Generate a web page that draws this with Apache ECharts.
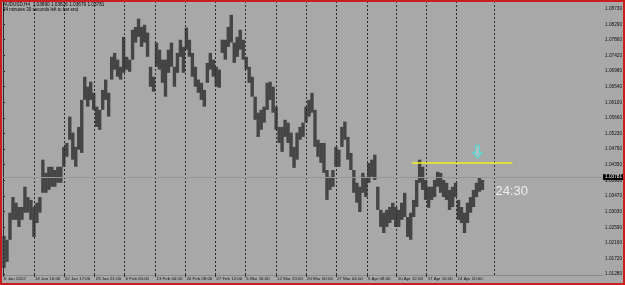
<!DOCTYPE html>
<html><head><meta charset="utf-8">
<script src="https://cdn.jsdelivr.net/npm/echarts@6/dist/echarts.min.js"></script>
<style>html,body{margin:0;padding:0;background:#a8a8a8}#c{width:625px;height:285px}</style>
</head><body><div id="c"></div>
<script>
// AUDUSD H4 – sampled every 3 H4 bars: high / low
const barHigh = [
1.0235,1.0224,1.0300,1.0344,1.0328,1.0316,1.0316,1.0373,1.0344,1.0336,
1.0316,1.0328,1.0344,1.0449,1.0412,1.0429,1.0429,1.0420,1.0429,1.0429,
1.0485,1.0496,1.0570,1.0525,1.0485,1.0541,1.0617,1.0682,1.0654,1.0668,
1.0637,1.0598,1.0589,1.0645,1.0674,1.0637,1.0738,1.0749,1.0730,1.0710,
1.0794,1.0738,1.0730,1.0814,1.0822,1.0845,1.0822,1.0828,1.0806,1.0710,
1.0682,1.0778,1.0758,1.0730,
1.0730,1.0758,1.0778,1.0710,1.0749,1.0786,1.0766,1.0820,1.0786,1.0749,
1.0710,1.0674,1.0665,1.0645,1.0721,1.0749,1.0730,1.0710,1.0702,1.0786,
1.0786,1.0822,1.0856,1.0778,1.0794,1.0814,1.0786,1.0738,1.0710,1.0682,
1.0626,1.0581,1.0589,1.0598,1.0665,1.0668,1.0654,1.0598,1.0541,1.0541,
1.0561,1.0553,1.0525,1.0485,1.0525,1.0541,1.0553,1.0598,1.0617,1.0637,
1.0589,1.0505,1.0496,
1.0496,1.0420,1.0401,1.0420,1.0485,1.0477,1.0541,1.0556,1.0513,1.0468,
1.0420,1.0384,1.0373,1.0412,1.0401,1.0440,1.0449,1.0463,1.0373,1.0308,
1.0300,1.0308,1.0316,1.0328,1.0316,1.0308,1.0328,1.0356,1.0288,1.0300,
1.0336,1.0392,1.0449,1.0429,1.0392,1.0373,1.0373,1.0392,1.0415,1.0412,
1.0392,1.0384,1.0364,1.0373,1.0384,1.0336,1.0316,1.0300,1.0328,1.0344,
1.0364,1.0384,1.0398,1.0392
];
const barLow = [
1.0145,1.0162,1.0224,1.0280,1.0280,1.0260,1.0280,1.0300,1.0300,1.0280,
1.0232,1.0271,1.0300,1.0356,1.0356,1.0364,1.0373,1.0373,1.0384,1.0384,
1.0429,1.0457,1.0505,1.0449,1.0429,1.0477,1.0468,1.0617,1.0598,1.0617,
1.0589,1.0541,1.0533,1.0589,1.0617,1.0570,1.0674,1.0702,1.0682,1.0674,
1.0693,1.0702,1.0696,1.0730,1.0778,1.0794,1.0766,1.0778,1.0738,1.0654,
1.0640,1.0710,1.0702,1.0665,
1.0626,1.0693,1.0710,1.0654,1.0693,1.0738,1.0693,1.0758,1.0738,1.0682,
1.0654,1.0637,1.0617,1.0598,1.0665,1.0702,1.0682,1.0654,1.0651,1.0749,
1.0730,1.0766,1.0778,1.0721,1.0738,1.0758,1.0730,1.0702,1.0665,1.0626,
1.0561,1.0513,1.0533,1.0553,1.0589,1.0617,1.0581,1.0533,1.0496,1.0471,
1.0513,1.0496,1.0457,1.0426,1.0449,1.0505,1.0513,1.0553,1.0570,1.0581,
1.0485,1.0457,1.0440,
1.0412,1.0336,1.0364,1.0373,1.0429,1.0429,1.0485,1.0505,1.0449,1.0420,
1.0356,1.0328,1.0302,1.0356,1.0344,1.0384,1.0401,1.0392,1.0308,1.0260,
1.0243,1.0260,1.0271,1.0280,1.0260,1.0260,1.0280,1.0288,1.0232,1.0224,
1.0288,1.0316,1.0384,1.0364,1.0336,1.0314,1.0336,1.0344,1.0373,1.0356,
1.0344,1.0336,1.0308,1.0316,1.0344,1.0280,1.0271,1.0243,1.0271,1.0300,
1.0316,1.0344,1.0359,1.0364
];
const BARS_PER_SAMPLE = 3;

const timeLabels = ["6 Jan 2012","13 Jan 16:00","22 Jan 17:00","29 Jan 21:00","6 Feb 00:00",
  "13 Feb 04:00","20 Feb 08:00","27 Feb 12:00","5 Mar 16:00","12 Mar 20:00","20 Mar 00:00",
  "27 Mar 04:00","3 Apr 08:00","10 Apr 12:00","17 Apr 16:00","24 Apr 20:00"];
const timeLabelBars = [0,31,61,92,122,153,183,213,243,274,304,334,365,395,425,455];
const separatorBars = [0,31,61,92,122,153,183,213,243,274,304,334,365,395,425,455,493];
const priceTicks = [1.08730,1.08290,1.07860,1.07420,1.06980,1.06540,1.06100,1.05660,1.05230,
  1.04790,1.04350,1.03910,1.03470,1.03030,1.02590,1.02160,1.01720,1.01280];
const bidPrice = 1.03781;
const levelPrice = 1.0440, levelFromBar = 410, levelToBar = 511;
const arrowBar = 476, arrowPrice = 1.0471;
const timerBar = 494, timerPrice = 1.0360, timerText = "24:30";
const headerLine1 = "AUDUSD,H4  1.03690 1.03826 1.03679 1.03781";
const headerLine2 = "24 minutes 30 seconds left to bar end";

const FONT = "'Liberation Sans', Arial, sans-serif";
const chart = echarts.init(document.getElementById('c'), null, {renderer: 'canvas'});
const barData = barHigh.map((h, i) => [i * BARS_PER_SAMPLE + 1, barLow[i], h]);

chart.setOption({
  animation: false,
  backgroundColor: '#a8a8a8',
  grid: {left: 3, right: 20, top: 2, bottom: 10},
  xAxis: {
    type: 'value', min: 0, max: 602,
    splitLine: {show: false},
    axisLine: {show: true, lineStyle: {color: '#8a8a8a', width: 1}},
    axisTick: {show: true, customValues: timeLabelBars, length: 2, lineStyle: {color: '#333'}},
    axisLabel: {
      customValues: timeLabelBars,
      formatter: v => timeLabels[timeLabelBars.indexOf(v)] || '',
      align: 'left', fontSize: 4.4, color: '#111', margin: 2, fontFamily: FONT, padding: [0,0,0,1]
    }
  },
  yAxis: {
    type: 'value', position: 'right', min: 1.0125, max: 1.0892, scale: true,
    splitLine: {show: false},
    axisLine: {show: true, lineStyle: {color: '#2a2a2a', width: 1}},
    axisTick: {show: true, customValues: priceTicks, length: 2, lineStyle: {color: '#2a2a2a'}},
    axisLabel: {
      customValues: priceTicks, formatter: v => v.toFixed(5),
      fontSize: 4.7, color: '#111', margin: 2, fontFamily: FONT
    }
  },
  series: [
    {
      type: 'line', data: [], z: 1, silent: true,
      markLine: {
        silent: true, symbol: 'none', animation: false,
        label: {show: false},
        lineStyle: {color: '#2b2b2b', type: [2, 2], width: 1},
        data: separatorBars.map(b => ({xAxis: b}))
      }
    },
    {
      type: 'line', data: [], z: 1, silent: true,
      markLine: {
        silent: true, symbol: 'none', animation: false,
        lineStyle: {color: '#8e979c', type: 'solid', width: 1},
        label: {show: true, position: 'end', formatter: bidPrice.toFixed(5), backgroundColor: '#000',
          color: '#fff', fontSize: 4.7, padding: [1, 2, 0, 2], distance: 0, fontFamily: FONT},
        data: [{yAxis: bidPrice}]
      }
    },
    {
      type: 'custom', z: 3,
      data: barData,
      encode: {x: 0, y: [1, 2]},
      renderItem: (params, api) => {
        const x = api.value(0), lo = api.value(1), hi = api.value(2);
        const pHi = api.coord([x, hi]);
        const pLo = api.coord([x, lo]);
        const w = api.size([BARS_PER_SAMPLE, 0])[0] + 0.4;
        return {type: 'rect', shape: {x: pHi[0] - w / 2, y: pHi[1], width: w, height: pLo[1] - pHi[1]},
          style: {fill: '#454545'}};
      }
    },
    {
      type: 'line', data: [], z: 4, silent: true,
      markLine: {
        silent: true, symbol: 'none', animation: false, label: {show: false},
        lineStyle: {color: '#f0f01e', type: 'solid', width: 1.5},
        data: [[{coord: [levelFromBar, levelPrice]}, {coord: [levelToBar, levelPrice]}]]
      }
    },
    {
      type: 'scatter', z: 5, silent: true,
      data: [[arrowBar, arrowPrice]],
      symbol: 'path://M3,0 L7,0 L7,7 L10,7 L5,13 L0,7 L3,7 Z',
      symbolSize: [10, 13],
      itemStyle: {color: 'rgba(170,240,240,0.45)', borderColor: '#4fdada', borderWidth: 1.2}
    },
    {
      type: 'scatter', z: 5, silent: true,
      data: [[timerBar, timerPrice]], symbolSize: 0,
      label: {show: true, position: 'right', distance: 0, formatter: timerText, color: '#fff',
        fontSize: 13, fontFamily: FONT}
    }
  ],
  graphic: [
    {type: 'text', left: 3, top: 2, z: 10, style: {text: headerLine1, fontSize: 4.7, fill: '#000', fontFamily: FONT}},
    {type: 'text', left: 3, top: 7, z: 10, style: {text: headerLine2, fontSize: 4.5, fill: '#000', fontFamily: FONT}},
    {type: 'rect', z: 20, silent: true, shape: {x: 1, y: 1, width: 623, height: 283},
      style: {fill: null, stroke: '#c81e1e', lineWidth: 2}}
  ]
});
</script></body></html>
